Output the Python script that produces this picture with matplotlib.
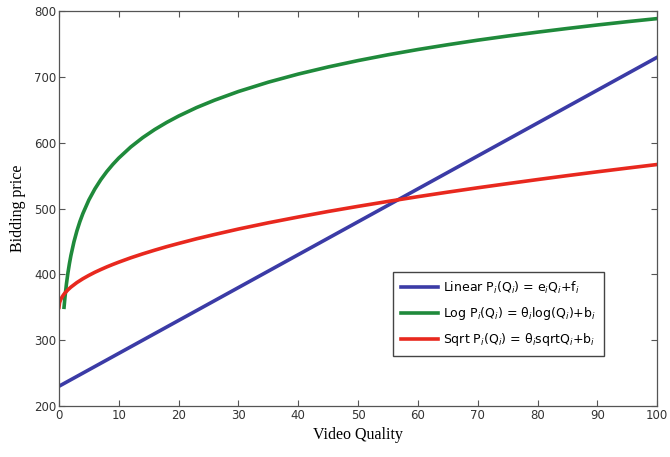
import matplotlib
matplotlib.use("Agg")
import matplotlib.pyplot as plt

q_linear = [0, 100]
p_linear = [230, 730]

q_log = [0.85, 1, 1.25, 1.5, 1.75, 2, 2.5, 3, 3.5, 4, 5, 6, 7, 8, 9, 10, 12, 14, 16, 18, 20,
         23, 26, 30, 35, 40, 45, 50, 55, 60, 65, 70, 75, 80, 85, 90, 95, 100]
p_log = [350, 365, 385.5, 402.3, 416.5, 428.8, 449.3, 466.1, 480.3, 492.5, 513.1, 529.8, 544.0,
         556.3, 567.1, 576.8, 593.6, 607.8, 620.1, 630.9, 640.6, 653.5, 664.7, 677.9, 692.1,
         704.4, 715.2, 724.9, 733.7, 741.7, 749.0, 755.9, 762.2, 768.1, 773.7, 779.0, 784.0, 788.7]

q_sqrt = [0, 0.1, 0.25, 0.5, 0.75, 1, 1.5, 2, 3, 4, 5, 6, 7, 8, 9, 10, 12, 14, 16, 18, 20,
          23, 26, 30, 35, 40, 45, 50, 55, 60, 65, 70, 75, 80, 85, 90, 95, 100]
p_sqrt = [350, 356.9, 360.9, 365.3, 368.8, 371.7, 376.6, 380.7, 387.6, 393.4, 398.5, 403.2,
          407.4, 411.4, 415.1, 418.6, 425.2, 431.2, 436.8, 442.1, 447.0, 454.1, 460.6, 468.9,
          478.4, 487.2, 495.6, 503.4, 510.9, 518.1, 525.0, 531.6, 537.9, 544.1, 550.1, 555.9,
          561.5, 567.0]

labels = ["Linear P$_i$(Q$_i$) = e$_i$Q$_i$+f$_i$",
          "Log P$_i$(Q$_i$) = θ$_i$log(Q$_i$)+b$_i$",
          "Sqrt P$_i$(Q$_i$) = θ$_i$sqrtQ$_i$+b$_i$"]
colors = ["#3b3ba6", "#1f8a3b", "#e8281e"]

xticks = list(range(0, 101, 10))
yticks = list(range(200, 801, 100))

fig = plt.figure(figsize=(6.7, 4.57), dpi=100)
ax = fig.add_axes([0.088, 0.1116, 0.893, 0.864])

ax.plot(q_linear, p_linear, color=colors[0], lw=2.6, label=labels[0])
ax.plot(q_log, p_log, color=colors[1], lw=2.6, label=labels[1])
ax.plot(q_sqrt, p_sqrt, color=colors[2], lw=2.6, label=labels[2])

ax.set_xlim(0, 100)
ax.set_ylim(200, 800)
ax.set_xticks(xticks)
ax.set_yticks(yticks)
ax.tick_params(direction="in", top=True, right=True, labelsize=8.5, length=4,
               color="#555555", labelcolor="#333333", pad=2)
for s in ax.spines.values():
    s.set_color("#555555")
    s.set_linewidth(0.9)

ax.set_xlabel("Video Quality", family="Liberation Serif", fontsize=11.5, labelpad=4)
ax.set_ylabel("Bidding price", family="Liberation Serif", fontsize=11.5, labelpad=6)

leg = ax.legend(loc="upper left", bbox_to_anchor=(0.5585, 0.339),
                fontsize=9, fancybox=False, framealpha=1, borderaxespad=0,
                edgecolor="#444444", handlelength=3.0, borderpad=0.6,
                labelspacing=0.75, handletextpad=0.4)
leg.get_frame().set_linewidth(1.0)

fig.savefig("out.png", dpi=100)
